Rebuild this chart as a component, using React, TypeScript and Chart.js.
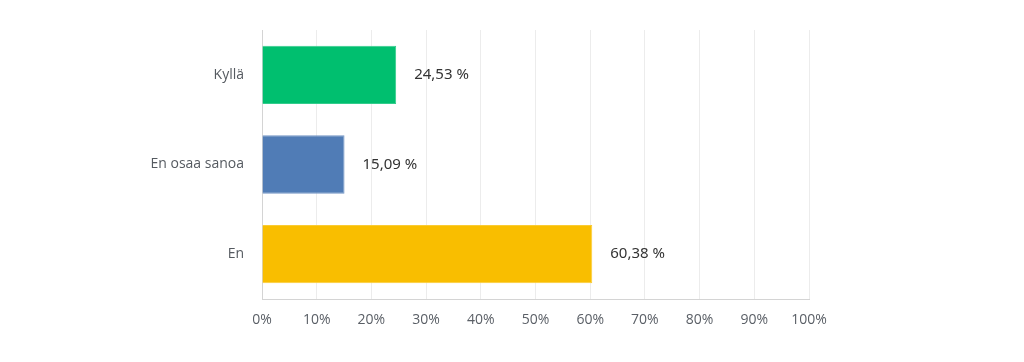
import React, { useEffect, useRef } from "react";
import { Chart, registerables } from "chart.js";

Chart.register(...registerables);

const categories = ["Kyllä", "En osaa sanoa", "En"];
const values = [24.53, 15.09, 60.38];
const barColors = ["#00BF6F", "#507CB6", "#F9BE00"];
const barBorders = ["#33CC8C", "#7396C5", "#FACB33"];
const xTicks = [0, 10, 20, 30, 40, 50, 60, 70, 80, 90, 100];

const valueLabels = {
  id: "valueLabels",
  afterDatasetsDraw(chart: any) {
    const ctx = chart.ctx;
    const meta = chart.getDatasetMeta(0);
    ctx.save();
    ctx.font = '15px "Noto Sans", "Open Sans", sans-serif';
    ctx.fillStyle = "#333333";
    ctx.textAlign = "left";
    ctx.textBaseline = "middle";
    meta.data.forEach((bar: any, i: number) => {
      const txt = values[i].toFixed(2).replace(".", ",") + " %";
      ctx.fillText(txt, bar.x + 18, bar.y);
    });
    ctx.restore();
  },
};

export default function App() {
  const ref = useRef<HTMLCanvasElement>(null);
  useEffect(() => {
    document.body.style.margin = "0";
    const chart = new Chart(ref.current!, {
      type: "bar",
      data: {
        labels: categories,
        datasets: [
          {
            data: values,
            backgroundColor: barColors,
            borderColor: barBorders,
            borderWidth: 1,
            barPercentage: 0.65,
            categoryPercentage: 1,
          },
        ],
      },
      options: {
        indexAxis: "y",
        animation: false,
        responsive: false,
        maintainAspectRatio: false,
        layout: { padding: { top: 30, right: 215, left: 0, bottom: 0 } },
        plugins: { legend: { display: false }, tooltip: { enabled: false } },
        scales: {
          x: {
            min: 0,
            max: 100,
            afterBuildTicks: (scale: any) => {
              scale.ticks = xTicks.map((v) => ({ value: v }));
            },
            afterFit: (scale: any) => {
              scale.height = 63;
            },
            grid: { color: "#ececec", drawTicks: false, lineWidth: 1 },
            border: { color: "#d4d4d4", width: 1 },
            ticks: {
              padding: 13,
              color: "#5a5f66",
              font: { family: '"Open Sans", sans-serif', size: 14 },
              callback: (v: any) => v + "%",
            },
          },
          y: {
            afterFit: (scale: any) => {
              scale.width = 262;
            },
            grid: { display: false, drawTicks: false },
            border: { color: "#d4d4d4", width: 1 },
            ticks: {
              padding: 18,
              color: "#555a60",
              font: { family: '"Open Sans", sans-serif', size: 14 },
            },
          },
        },
      },
      plugins: [valueLabels],
    } as any);
    return () => chart.destroy();
  }, []);
  return (
    <div style={{ width: 1024, height: 362 }}>
      <canvas ref={ref} width={1024} height={362} style={{ display: "block" }} />
    </div>
  );
}
